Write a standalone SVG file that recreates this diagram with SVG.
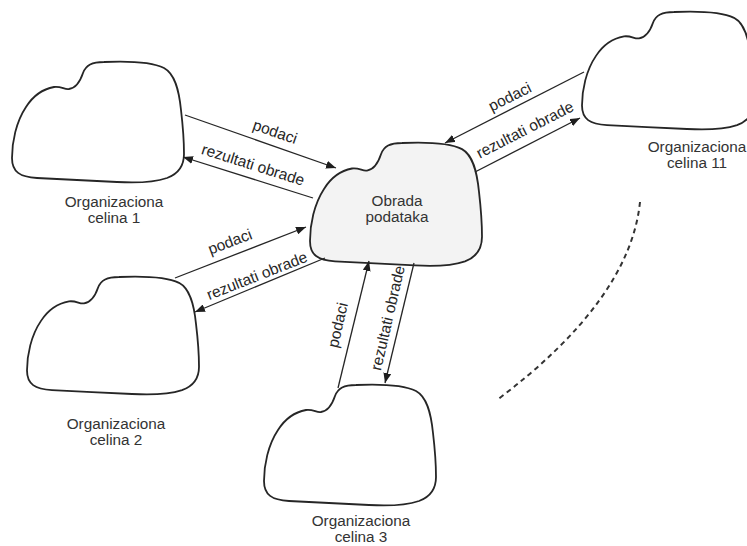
<svg xmlns="http://www.w3.org/2000/svg" xmlns:xlink="http://www.w3.org/1999/xlink" width="747" height="546" viewBox="0 0 747 546">
<style>
.cloud{fill:#fff;stroke:#262626;stroke-width:1.8;stroke-linejoin:round}
.center{fill:#f3f3f3}
.lbl{font-family:"Liberation Sans",Arial,sans-serif;font-size:15.3px;fill:#333;text-anchor:middle}
.al{font-family:"Liberation Sans",Arial,sans-serif;font-size:15.5px;fill:#262626;text-anchor:middle}
.arr{stroke:#262626;stroke-width:1.3;fill:none;marker-end:url(#ah)}
.dash{stroke:#333;stroke-width:2;fill:none;stroke-dasharray:5 4}
</style>
<defs>
<marker id="ah" markerWidth="10" markerHeight="8" refX="10" refY="4" orient="auto" markerUnits="userSpaceOnUse">
<path d="M0,0 L10,4 L0,8 Z" fill="#1e1e1e"/>
</marker>
<path id="cloud" d="M57,27 C64,26 68,20 71,11 C74,3 80,0 92,0 C115,-1 140,0 152,6 C163,12 167,28 169,48 C171,65 172,80 172,92 C172,104 166,112 155,116 C140,121 122,121 105,120 C80,119 50,117 25,116 C8,115 0,110 0,96 C0,80 4,60 14,45 C21,34 31,27 42,25 C49,24 53,28 57,27 Z"/>
</defs>
<rect width="747" height="546" fill="#fff"/>
<g id="celina1">
<use xlink:href="#cloud" class="cloud" transform="translate(12,62)"/>
<text class="lbl" x="114" y="207">Organizaciona</text>
<text class="lbl" x="114" y="223">celina 1</text>
</g>
<g id="celina2">
<use xlink:href="#cloud" class="cloud" transform="translate(27,277) scale(1,0.975)"/>
<text class="lbl" x="116" y="429">Organizaciona</text>
<text class="lbl" x="116" y="445">celina 2</text>
</g>
<g id="celina3">
<use xlink:href="#cloud" class="cloud" transform="translate(264,385)"/>
<text class="lbl" x="361" y="526">Organizaciona</text>
<text class="lbl" x="361" y="542">celina 3</text>
</g>
<g id="celina11">
<use xlink:href="#cloud" class="cloud" transform="translate(582,12) scale(1,0.975)"/>
<text class="lbl" x="697" y="152">Organizaciona</text>
<text class="lbl" x="697" y="168">celina 11</text>
</g>
<g id="obrada">
<use xlink:href="#cloud" class="cloud center" transform="translate(310,143) scale(1,1.02)"/>
<text class="lbl" x="397" y="206">Obrada</text>
<text class="lbl" x="397" y="222">podataka</text>
</g>
<g id="connectors">
<line class="arr" x1="185" y1="115" x2="336" y2="168"/>
<line class="arr" x1="313" y1="198" x2="183" y2="157"/>
<line class="arr" x1="175" y1="278" x2="306" y2="227"/>
<line class="arr" x1="325" y1="258" x2="195" y2="312"/>
<line class="arr" x1="338" y1="388" x2="369" y2="261"/>
<line class="arr" x1="414" y1="263" x2="385" y2="383"/>
<line class="arr" x1="584" y1="72" x2="445" y2="143"/>
<line class="arr" x1="475" y1="172" x2="580" y2="118"/>
<path class="dash" d="M640,202 Q630,300 497,400"/>
<text class="al" transform="translate(275,132) rotate(19)" y="5">podaci</text>
<text class="al" transform="translate(253,165) rotate(17.5)" y="5">rezultati obrade</text>
<text class="al" transform="translate(230,242) rotate(-21)" y="5">podaci</text>
<text class="al" transform="translate(257,276) rotate(-21.5)" y="5">rezultati obrade</text>
<text class="al" transform="translate(338,325) rotate(-77)" y="5">podaci</text>
<text class="al" transform="translate(388,318) rotate(-77)" y="5">rezultati obrade</text>
<text class="al" transform="translate(510,97) rotate(-26.6)" y="5">podaci</text>
<text class="al" transform="translate(525,130) rotate(-27)" y="5">rezultati obrade</text>
</g>
</svg>
